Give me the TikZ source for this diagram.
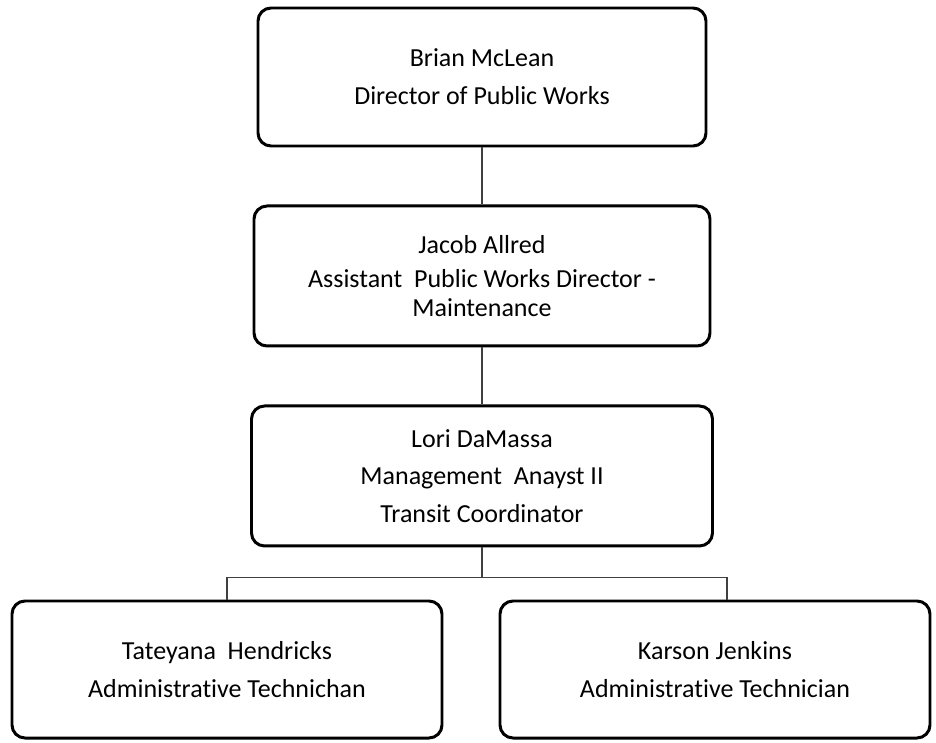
\documentclass[tikz,border=0pt]{standalone}
\usepackage{fontspec}
\setmainfont{Carlito}[Ligatures=NoCommon]
\usetikzlibrary{positioning,calc}
\tikzset{
block/.style = {draw, line width=1.7pt, rounded corners=0.26cm, fill=white, rectangle, align=center, minimum width=9.12cm, minimum height=2.8cm, font=\fontsize{14.8}{16.5}\selectfont},
leaf/.style = {block, minimum width=8.6cm, minimum height=2.74cm},
tmp/.style  = {coordinate},
link/.style = {draw, black!75, line width=0.6pt}
}
\begin{document}
\begin{tikzpicture}[node distance=1.14cm]
  \useasboundingbox (0,0) rectangle (18.72,-14.86);
  \node [block, minimum width=8.96cm, minimum height=2.76cm] at (9.64,-1.54) (brian) {Brian McLean\\[5pt] Director of Public Works};
  \node [block, below=of brian]                         (jacob)  {Jacob Allred\\[3pt] Assistant\ \ Public Works Director -\\ Maintenance};
  \node [block, below=of jacob, minimum width=9.22cm]   (lori)   {Lori DaMassa\\[5pt] Management\ \ Anayst II\\[5pt] Transit Coordinator};
  \node [leaf] at (4.54,-13.39)                         (tate)   {Tateyana\ \ Hendricks\\[5pt] Administrative Technichan};
  \node [leaf] at (14.3,-13.39)                         (karson) {Karson Jenkins\\[5pt] Administrative Technician};

  \node [tmp] at ($(lori.south)+(0,-0.6)$)              (split)  {};
  \node [tmp] at ($(karson.north)+(0.24,0)$)            (kjoin)  {};

  \draw [link] (brian) -- (jacob);
  \draw [link] (jacob) -- (lori);
  \draw [link] (lori) -- (split);
  \draw [link] (tate.north) |- (split) -| (kjoin);
\end{tikzpicture}
\end{document}
